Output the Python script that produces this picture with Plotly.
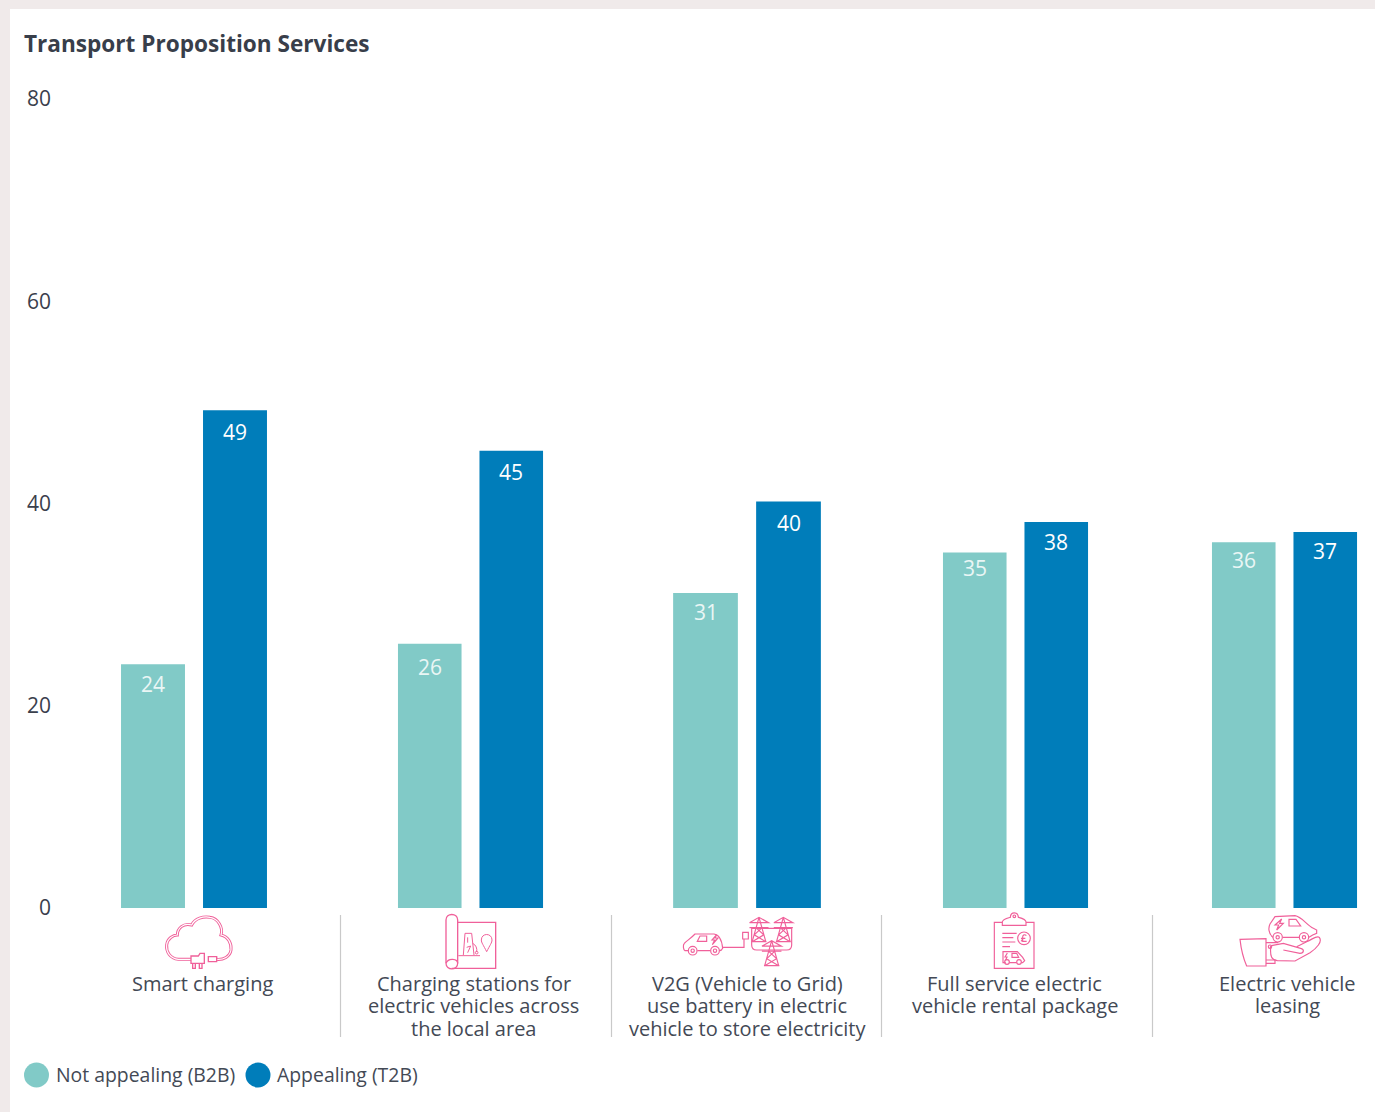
import base64
import plotly.graph_objects as go

# Survey data
services = ["Smart charging", "Charging stations", "V2G", "Full service rental", "EV leasing"]
not_appealing = [24, 26, 31, 35, 36]
appealing = [49, 45, 40, 38, 37]
series_names = ["Not appealing (B2B)", "Appealing (T2B)"]
tick_values = [0, 20, 40, 60, 80]
category_lines = [
    ["Smart charging"],
    ["Charging stations for", "electric vehicles across", "the local area"],
    ["V2G (Vehicle to Grid)", "use battery in electric", "vehicle to store electricity"],
    ["Full service electric", "vehicle rental package"],
    ["Electric vehicle", "leasing"],
]

W, H = 1375, 1112
TEAL, BLUE, INK, PINK = "#81cac7", "#007dba", "#434955", "#f0609a"
FONT = "Open Sans"

def px_x(v):
    return v / W

def px_y(v):
    return 1 - v / H

# Each service gets its own x axis so the groups can sit at their own spacing
group_spans = [(112, 276), (389, 552), (664, 830), (934, 1097), (1203, 1366)]
label_centres = [203, 474, 748, 1015, 1288]
dividers = [340.5, 611.5, 881.5, 1152.5]
PLOT_TOP, PLOT_BOTTOM = 99, 908
BAR_SCALE = 10.16  # pixels per percentage point on the bar axis
# How far each value label hangs below the top of its bar, per series
label_drops = [[20, 23, 19, 16, 18], [22, 21, 21, 20, 19]]

fig = go.Figure()
layout_axes = {}
annotations = []
for i, (name, a, b, span) in enumerate(zip(services, not_appealing, appealing, group_spans)):
    suffix = "" if i == 0 else str(i + 1)
    quarter = (span[1] - span[0]) / 4
    bars = ((series_names[0], a, TEAL, -quarter, label_drops[0][i], "#eaf6f5"),
            (series_names[1], b, BLUE, quarter, label_drops[1][i], "#ffffff"))
    for label, value, colour, shift, drop, text_colour in bars:
        fig.add_trace(go.Bar(
            x=[name], y=[value], name=label, marker=dict(color=colour, line=dict(width=0)),
            xaxis="x" + suffix, yaxis="y", showlegend=False, hoverinfo="x+y+name",
        ))
        annotations.append(dict(
            text=str(value), xref="x" + suffix, yref="y", x=name, y=value,
            xshift=shift, yshift=-drop, xanchor="center", yanchor="middle", showarrow=False,
            font=dict(family=FONT, size=21, color=text_colour),
        ))
    layout_axes["xaxis" + suffix] = dict(
        domain=[px_x(span[0]), px_x(span[1])], anchor="y", showticklabels=False, automargin=False,
        showgrid=False, zeroline=False, showline=False, ticks="", type="category",
    )

# Invisible series that carries the visible value axis
fig.add_trace(go.Scatter(
    x=[services[0], services[0]], y=[tick_values[0], tick_values[-1]], yaxis="y2",
    mode="lines", line=dict(width=0), opacity=0, showlegend=False, hoverinfo="skip",
))

domain_y = [px_y(PLOT_BOTTOM), px_y(PLOT_TOP)]

shapes = [
    dict(type="rect", xref="paper", yref="paper", x0=px_x(10), x1=1, y0=0, y1=px_y(9),
         fillcolor="white", line=dict(width=0), layer="below"),
]
for x in dividers:
    shapes.append(dict(type="line", xref="paper", yref="paper", x0=px_x(x), x1=px_x(x),
                       y0=px_y(915), y1=px_y(1037), line=dict(color="#c9c9c9", width=1.2)))
for cx, colour in ((36.5, TEAL), (258, BLUE)):
    shapes.append(dict(type="circle", xref="paper", yref="paper", x0=px_x(cx - 12.5), x1=px_x(cx + 12.5),
                       y0=px_y(1087.5), y1=px_y(1062.5), fillcolor=colour, line=dict(width=0)))

annotations.append(dict(
    text="<b>Transport Proposition Services</b>", xref="paper", yref="paper", x=px_x(22), y=px_y(44),
    xanchor="left", yanchor="middle", showarrow=False,
    font=dict(family=FONT, size=22.6, color="#383e4a"),
))
for lines, centre in zip(category_lines, label_centres):
    for j, line in enumerate(lines):
        annotations.append(dict(
            text=line, xref="paper", yref="paper", x=px_x(centre - 0.5), y=px_y(983 + j * 22.5),
            xanchor="center", yanchor="middle", showarrow=False, borderpad=0,
            font=dict(family=FONT, size=20, color=INK),
        ))
for name, left in zip(series_names, (54, 275)):
    annotations.append(dict(
        text=name, xref="paper", yref="paper", x=px_x(left), y=px_y(1074),
        xanchor="left", yanchor="middle", showarrow=False,
        font=dict(family=FONT, size=19.4, color=INK),
    ))

# Line-art pictograms, authored at three times their drawn size
def tower(cx, top, bottom):
    half = (bottom - top) * 0.28
    return (f'M{cx},{top} L{cx-half},{bottom} M{cx},{top} L{cx+half},{bottom} '
            f'M{cx-half*1.4},{top+(bottom-top)*.22} H{cx+half*1.4} L{cx},{top} L{cx-half*1.4},{top+(bottom-top)*.22} '
            f'M{cx-half*1.4},{top+(bottom-top)*.42} H{cx+half*1.4} '
            f'M{cx-half*.45},{top+(bottom-top)*.42} L{cx+half*.7},{top+(bottom-top)*.72} L{cx-half},{bottom} '
            f'M{cx+half*.45},{top+(bottom-top)*.42} L{cx-half*.7},{top+(bottom-top)*.72} L{cx+half},{bottom} '
            f'M{cx-half*1.1},{bottom} H{cx+half*1.1}')

CLOUD = ('M215,178 L175,178 C150,175 138,155 140,135 C142,115 160,105 172,105 C172,85 190,68 215,75 '
         'C225,55 250,48 270,52 C295,55 310,85 303,105 C325,110 335,130 333,150 C330,170 310,180 290,178')
ICON_LEFT = f'''
<path d="{CLOUD}" fill="none" stroke="{PINK}" stroke-width="9"/>
<path d="{CLOUD}" fill="none" stroke="#fff" stroke-width="3.5"/>
<path d="M213,168 H235 L240,160 H253 V190 H213 Z M218,190 V205 H226 V190 M238,190 V205 H246 V190 M265,170 H290 V185 H265 Z"
 fill="#fff" stroke="{PINK}" stroke-width="4"/>
<g fill="none" stroke="{PINK}" stroke-width="4">
<path d="M1013,67 H1127 V205 H995"/>
<path d="M978,190 V60 C978,38 1013,38 1013,60 V190"/>
<path d="M978,190 C978,212 1013,212 1013,190 C1013,176 985,172 978,190"/>
</g>
<g fill="none" stroke="{PINK}" stroke-width="3">
<path d="M1015,167 H1080 M1030,165 L1035,100 H1055 L1062,165 M1043,112 V128 M1040,142 L1052,138 L1043,158 M1058,130 C1068,135 1072,145 1070,156"/>
<circle cx="1070" cy="158" r="4"/>
<path d="M1100,155 C1090,135 1084,128 1084,120 C1084,98 1116,98 1116,120 C1116,128 1110,135 1100,155 Z"/>
</g>'''
ICON_MID = f'''
<g fill="none" stroke="{PINK}" stroke-width="3.5">
<path d="M204,152 H195 C190,150 188,135 193,130 C200,122 212,116 225,102 H282 C298,104 306,125 308,145 C305,152 300,152 298,152 M232,152 H271"/>
<circle cx="218" cy="152" r="13"/><circle cx="218" cy="152" r="5"/>
<circle cx="285" cy="152" r="13"/><circle cx="285" cy="152" r="5"/>
<path d="M232,124 L240,108 H260 V124 Z M290,104 L276,120 H284 L277,134 L294,114 H285 Z"/>
<path d="M308,142 H372 V117 M368,97 H385 V117 H368 Z"/>
<path d="M395,135 V85 H515 V135 C515,145 508,150 500,150 H410 C402,150 395,145 395,135 Z"/>
<path d="{tower(417,52,125)}"/><path d="{tower(490,52,125)}"/><path d="{tower(455,122,197)}"/>
</g>
<g fill="none" stroke="{PINK}" stroke-width="3.5">
<path d="M1147,67 H1123 V205 H1242 V67 H1218"/>
<path d="M1147,76 V66 C1147,58 1160,55 1171,52 C1172,34 1194,34 1195,52 C1206,55 1218,58 1218,66 V76 Z"/>
<circle cx="1183" cy="49" r="4"/>
<path d="M1147,100 H1190 M1147,113 H1180 M1147,126 H1186 M1147,140 H1170"/>
<circle cx="1212" cy="115" r="19"/>
<path d="M1219,107 C1215,102 1208,104 1208,111 V124 H1220 M1203,124 C1208,120 1208,118 1208,114 M1203,115 H1216"/>
<path d="M1157,188 H1149 V155 H1192 L1208,172 L1214,182 L1208,188 H1204 M1168,188 H1190"/>
<circle cx="1161" cy="186" r="7"/><circle cx="1197" cy="186" r="7"/>
<path d="M1176,160 H1190 L1196,172 H1176 Z M1162,159 L1155,171 H1161 L1157,180"/>
</g>'''
ICON_RIGHT = f'''
<g fill="none" stroke="{PINK}" stroke-width="3.5">
<path d="M300,118 L378,116 V198 H320 C310,175 303,145 300,118 Z"/>
<path d="M378,128 H415 M378,180 H405 V190 H378"/>
<path d="M392,142 C390,170 395,180 412,182 L465,183 L510,158 C530,145 548,125 538,112 C530,105 518,118 500,125 L470,140"/>
<path d="M430,150 L480,160 C492,160 494,148 482,145 L430,130 L398,136 C392,137 390,142 392,145"/>
<circle cx="390" cy="140" r="5"/>
<path d="M399,112 C384,100 385,82 390,72 L405,50 L465,47 C485,50 500,75 520,85 L530,90 V100 L518,105 L507,112 M428,112 H478"/>
<circle cx="413" cy="112" r="14"/><circle cx="413" cy="112" r="5"/>
<circle cx="492" cy="112" r="14"/><circle cx="492" cy="112" r="5"/>
<path d="M447,58 H468 L482,78 H447 Z M425,57 L405,75 H416 L410,90 L430,70 H419 Z"/>
</g>'''

def icon_image(body, left, top, width, height):
    svg = (f'<svg xmlns="http://www.w3.org/2000/svg" width="{width}" height="{height}" '
           f'viewBox="0 0 {width*3} {height*3}">{body}</svg>')
    uri = "data:image/svg+xml;base64," + base64.b64encode(svg.encode()).decode()
    return dict(source=uri, xref="paper", yref="paper", x=px_x(left), y=px_y(top),
                sizex=width / W, sizey=height / H, xanchor="left", yanchor="top",
                sizing="stretch", layer="above")

images = [
    icon_image(ICON_LEFT, 120, 900, 420, 150),
    icon_image(ICON_MID, 620, 900, 440, 150),
    icon_image(ICON_RIGHT, 1140, 900, 235, 150),
]

fig.update_layout(
    template="none",
    width=W, height=H, autosize=False,
    margin=dict(l=0, r=0, t=0, b=0, pad=0),
    paper_bgcolor="#f0eaea", plot_bgcolor="rgba(0,0,0,0)",
    barmode="group", bargap=0, bargroupgap=0.22,
    font=dict(family=FONT, color=INK),
    shapes=shapes, annotations=annotations, images=images,
    yaxis=dict(domain=domain_y, range=[0, (PLOT_BOTTOM - PLOT_TOP) / BAR_SCALE], visible=False,
               fixedrange=True, automargin=False),
    yaxis2=dict(domain=domain_y, range=[tick_values[0], tick_values[-1]], overlaying="y", anchor="free",
                position=px_x(51), side="left", tickmode="array", tickvals=tick_values, automargin=False,
                showgrid=False, zeroline=False, showline=False, ticks="",
                tickfont=dict(family=FONT, size=21, color="#3a404c")),
    **layout_axes,
)

fig.write_html("out.html")
